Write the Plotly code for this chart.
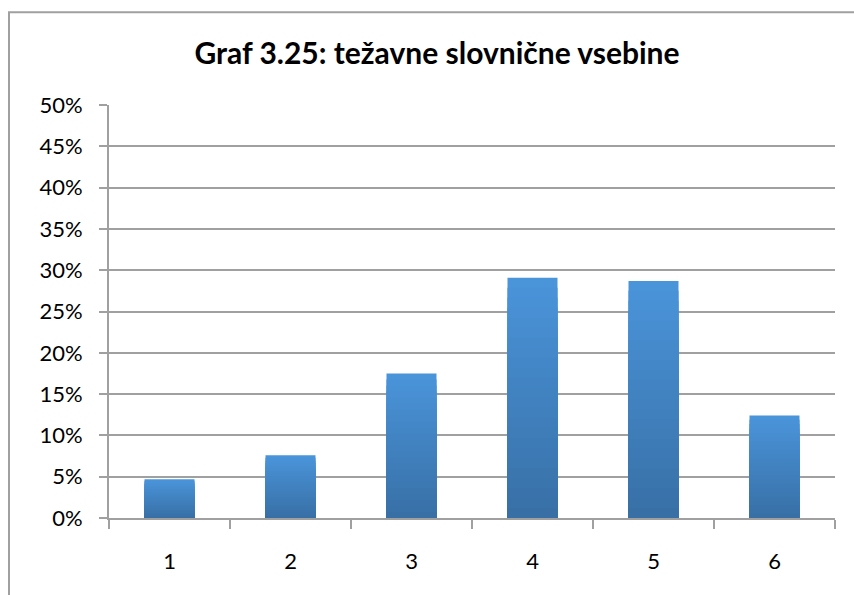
import plotly.graph_objects as go

categories = ["1", "2", "3", "4", "5", "6"]
values = [4.7, 7.6, 17.5, 29.1, 28.7, 12.4]  # percent
y_ticks = [0, 5, 10, 15, 20, 25, 30, 35, 40, 45, 50]
y_tick_labels = [f"{t}%" for t in y_ticks]
title_text = "Graf 3.25: težavne slovnične vsebine"

top_rgb = (74, 148, 218)
bot_rgb = (56, 112, 166)
n_layers = 24

fig = go.Figure()
# gradient: overlay of bars at decreasing fractions of each value (light top -> dark bottom)
for i in range(n_layers):
    frac = 1 - i / n_layers
    t = i / (n_layers - 1)
    r = round(top_rgb[0] + (bot_rgb[0] - top_rgb[0]) * t)
    g = round(top_rgb[1] + (bot_rgb[1] - top_rgb[1]) * t)
    b = round(top_rgb[2] + (bot_rgb[2] - top_rgb[2]) * t)
    fig.add_trace(go.Bar(
        x=categories,
        y=[v * frac for v in values],
        marker=dict(color=f"rgb({r},{g},{b})", line=dict(width=0)),
        hoverinfo="skip" if i else None,
        showlegend=False,
    ))

fig.update_layout(
    width=854, height=595,
    barmode="overlay",
    bargap=0.587,
    paper_bgcolor="white",
    plot_bgcolor="white",
    margin=dict(l=109, r=19, t=105, b=77, autoexpand=False),
    font=dict(family="Lato, Carlito, sans-serif", color="black"),
    title=dict(text=f"<b>{title_text}</b>", x=437 / 854, xanchor="center",
               y=1 - 53 / 595, yanchor="middle", yref="container",
               font=dict(size=30, family="Lato, sans-serif", color="black")),
    showlegend=False,
)
fig.update_yaxes(
    range=[0, 50], tickvals=y_ticks, ticktext=y_tick_labels,
    showgrid=True, gridcolor="#a0a0a0", gridwidth=2,
    showline=True, linecolor="#a0a0a0", linewidth=2,
    ticks="outside", ticklen=8, tickcolor="#a0a0a0", tickwidth=2,
    ticklabelstandoff=12,
    tickfont=dict(size=22, color="black"), zeroline=False, fixedrange=True,
)
fig.update_xaxes(
    type="category",
    showline=True, linecolor="#a0a0a0", linewidth=2,
    ticks="outside", tickson="boundaries", ticklen=9, tickcolor="#a0a0a0", tickwidth=2,
    ticklabelstandoff=23,
    tickfont=dict(size=22, color="black"), showgrid=False, fixedrange=True,
)
# outer chart border (left and top visible)
fig.add_shape(type="rect", xref="paper", yref="paper",
              x0=(9 - 109) / 726, x1=1.2, y0=-0.4, y1=(517.7 - 12) / 413,
              line=dict(color="#a0a0a0", width=2), fillcolor="rgba(0,0,0,0)", layer="below")

fig.write_html("out.html", config={"displayModeBar": False},
               post_script="document.body.style.margin='0';document.body.style.overflow='hidden';")
